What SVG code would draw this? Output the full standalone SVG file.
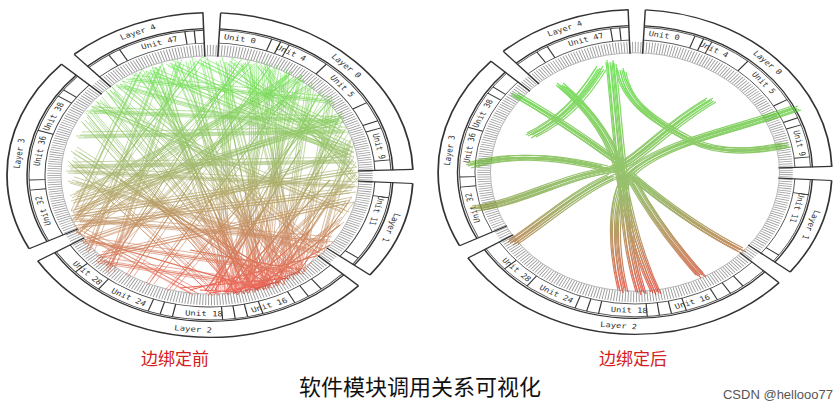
<svg xmlns="http://www.w3.org/2000/svg" width="840" height="409" viewBox="0 0 840 409">
<style>
.band{fill:none;stroke-dasharray:0 3 35 5 105 5 70 5 40 5 85 2}
.lab{font-family:"DejaVu Sans Mono",monospace;font-size:9px;fill:#333;text-anchor:middle;dominant-baseline:central}
.div{stroke:#333;stroke-width:1.2}
.tt{font-family:"Noto Sans CJK SC",sans-serif}
</style>
<defs>
<linearGradient id="gl" gradientUnits="userSpaceOnUse" x1="0" y1="60" x2="0" y2="295"><stop offset="0" stop-color="#30e010"/><stop offset="0.45" stop-color="#7a9a30"/><stop offset="1" stop-color="#e82010"/></linearGradient>
<linearGradient id="gr" gradientUnits="userSpaceOnUse" x1="0" y1="70" x2="0" y2="295"><stop offset="0" stop-color="#40d820"/><stop offset="0.55" stop-color="#70a030"/><stop offset="1" stop-color="#e02818"/></linearGradient>
<g id="ring">
<circle r="57.296" class="band" transform="scale(3.3684)" stroke="#fff" stroke-width="5.94"/>
<circle r="57.296" class="band" transform="scale(3.543)" stroke="#333" stroke-width="0.5"/>
<circle r="57.296" class="band" transform="scale(3.1939)" stroke="#333" stroke-width="0.47"/>
<circle r="57.296" class="band" transform="scale(3.0194)" stroke="#fff" stroke-width="5.3"/>
<circle r="57.296" class="band" transform="scale(3.159)" stroke="#444" stroke-width="0.32"/>
<circle r="57.296" class="band" transform="scale(2.8798)" stroke="#444" stroke-width="0.35"/>
<circle r="57.296" fill="none" transform="scale(2.7227)" stroke="#999" stroke-width="4.9" stroke-dasharray="0.35 0.7"/>
<circle r="149" fill="none" stroke="#999" stroke-width="0.8"/>
<g stroke="#333" stroke-width="1.5">
<line x1="148" x2="203" transform="rotate(-87)"/><line x1="148" x2="203" transform="rotate(-2)"/>
<line x1="148" x2="203" transform="rotate(3)"/><line x1="148" x2="203" transform="rotate(38)"/>
<line x1="148" x2="203" transform="rotate(43)"/><line x1="148" x2="203" transform="rotate(148)"/>
<line x1="148" x2="203" transform="rotate(153)"/><line x1="148" x2="203" transform="rotate(223)"/>
<line x1="148" x2="203" transform="rotate(228)"/><line x1="148" x2="203" transform="rotate(268)"/>
</g>
<g class="div">
<line x1="165" x2="181" transform="rotate(-70)"/><line x1="165" x2="181" transform="rotate(-67)"/><line x1="165" x2="181" transform="rotate(-64)"/><line x1="165" x2="181" transform="rotate(-50)"/><line x1="165" x2="181" transform="rotate(-30)"/><line x1="165" x2="181" transform="rotate(-22)"/><line x1="165" x2="181" transform="rotate(-19)"/><line x1="165" x2="181" transform="rotate(-6)"/>
<line x1="165" x2="181" transform="rotate(9)"/><line x1="165" x2="181" transform="rotate(35)"/>
<line x1="165" x2="181" transform="rotate(52)"/><line x1="165" x2="181" transform="rotate(57)"/><line x1="165" x2="181" transform="rotate(62)"/><line x1="165" x2="181" transform="rotate(73)"/><line x1="165" x2="181" transform="rotate(78)"/><line x1="165" x2="181" transform="rotate(82)"/><line x1="165" x2="181" transform="rotate(86)"/><line x1="165" x2="181" transform="rotate(102)"/><line x1="165" x2="181" transform="rotate(106)"/><line x1="165" x2="181" transform="rotate(110)"/><line x1="165" x2="181" transform="rotate(128)"/><line x1="165" x2="181" transform="rotate(138)"/>
<line x1="165" x2="181" transform="rotate(174)"/><line x1="165" x2="181" transform="rotate(178)"/><line x1="165" x2="181" transform="rotate(198)"/><line x1="165" x2="181" transform="rotate(213)"/><line x1="165" x2="181" transform="rotate(216)"/>
<line x1="165" x2="181" transform="rotate(236)"/><line x1="165" x2="181" transform="rotate(240)"/><line x1="165" x2="181" transform="rotate(262)"/><line x1="165" x2="181" transform="rotate(265)"/>
</g>
<g class="lab">
<text transform="rotate(-22) translate(0,-193)">Layer 4</text>
<text transform="rotate(45) translate(0,-193)">Layer 0</text>
<text transform="rotate(110) translate(0,-193)">Layer 1</text>
<text transform="rotate(5) translate(0,193)">Layer 2</text>
<text transform="rotate(-82) translate(0,-193)">Layer 3</text>
<text transform="rotate(-17) translate(0,-173)">Unit 47</text>
<text transform="rotate(10) translate(0,-173)">Unit 0</text>
<text transform="rotate(28) translate(0,-173)">Unit 4</text>
<text transform="rotate(50) translate(0,-173)">Unit 5</text>
<text transform="rotate(78) translate(0,-173)">Unit 9</text>
<text transform="rotate(105) translate(0,-173)">Unit 11</text>
<text transform="rotate(-20) translate(0,173)">Unit 16</text>
<text transform="rotate(2) translate(0,173)">Unit 18</text>
<text transform="rotate(28) translate(0,173)">Unit 24</text>
<text transform="rotate(45) translate(0,173)">Unit 28</text>
<text transform="rotate(-105) translate(0,-173)">Unit 32</text>
<text transform="rotate(-80) translate(0,-173)">Unit 36</text>
<text transform="rotate(-65) translate(0,-173)">Unit 38</text>
</g>
</g>
<path id="pl" d="M150 70L250 290M160 66L230 292M175 62L270 285M190 60L240 292M205 60L260 288M220 60L280 282M230 61L220 293M245 62L300 270M255 63L250 291M265 65L290 278M275 68L230 292M285 72L265 287M300 78L245 291M310 85L280 283M320 92L210 293M330 100L300 270M340 115L260 288M345 130L240 292M350 140L320 250M352 160L270 285M355 175L230 292M350 200L300 270M340 220L250 290
M140 72L75 210M130 78L330 100M120 84L350 150M110 90L300 272M100 100L260 288M90 110L340 120M85 120L240 292M80 135L345 130M75 150L280 283M72 165L350 160M72 180L320 252M74 195L300 78M75 210L340 115M75 215L355 170M76 215L290 75M75 218L330 240M76 220L200 60M78 225L352 190M80 232L250 62M85 240L300 272M90 250L160 66M100 260L270 286M110 270L180 62
M150 70L350 155M170 63L348 145M200 60L340 130M230 61L352 165M260 64L355 180M290 74L100 260M310 85L80 230M340 120L75 200M350 150L85 240M355 185L70 170M345 210L95 105M320 250L120 84M290 277L140 72M260 288L110 90M240 292L90 112M215 293L72 160M195 292L80 230M170 288L330 100M150 282L300 78M130 274L270 66M110 265L240 61M100 255L350 200"/>
<path id="pr" d="M560 85C590 110 612 140 620 175C628 220 640 260 655 292M610 62C615 110 618 150 622 180C626 230 630 260 640 292M795 108C740 128 662 142 630 172C612 192 610 240 622 290M475 208C520 202 562 177 602 171C632 169 655 132 710 100M512 242C542 222 577 191 612 176M470 165C520 150 570 160 605 168M515 95C560 120 600 150 615 160M700 275C675 247 652 217 631 179M740 250C700 230 660 200 630 175M620 70C625 100 650 120 690 140C720 155 760 150 785 145M600 68C580 100 560 120 530 135"/>
</defs>
<rect width="840" height="409" fill="#fff"/>
<use href="#ring" transform="translate(210,175) scale(1,0.8)"/>
<use href="#ring" transform="translate(635,172) scale(0.97,0.8)"/>
<g id="edges-before" fill="none" stroke="url(#gl)" stroke-width="0.6" opacity="0.7">
<use href="#pl"/><use href="#pl" transform="translate(4,2)"/><use href="#pl" transform="translate(-4,1)"/><use href="#pl" transform="translate(2,-3)"/><use href="#pl" transform="translate(-2,3)"/>
<path d="M200 290L240 292M210 293L280 282M230 292L300 272M245 291L330 245M255 290L340 225M180 288L290 278M190 290L320 255M230 285L260 240M240 280L210 200M250 286L180 140M265 286L230 120M275 283L330 200M285 280L150 200M260 289L90 240M270 286L120 180M300 270L190 250M215 290L300 150M225 292L330 180M205 291L270 200M240 291L310 230" stroke-width="1.2"/>
</g>
<g id="edges-after" fill="none" stroke="url(#gr)" stroke-width="1.2" opacity="0.7">
<use href="#pr"/><use href="#pr" transform="translate(2,0)"/><use href="#pr" transform="translate(4,1)"/><use href="#pr" transform="translate(-2,1)"/><use href="#pr" transform="translate(-4,0)"/><use href="#pr" transform="translate(6,2)"/><use href="#pr" transform="translate(1,3)"/><use href="#pr" transform="translate(-3,-2)"/><use href="#pr" transform="translate(3,-2)"/>
</g>
<g id="labels">
<text x="175" y="365" class="tt" font-size="17" fill="#d42020" text-anchor="middle">边绑定前</text>
<text x="633" y="365" class="tt" font-size="17" fill="#d42020" text-anchor="middle">边绑定后</text>
<text x="420" y="395" class="tt" font-size="22" fill="#111" text-anchor="middle">软件模块调用关系可视化</text>
<text x="778" y="399" font-family="Liberation Sans,sans-serif" font-size="13" fill="#555" text-anchor="middle">CSDN @hellooo77</text>
</g>
</svg>
